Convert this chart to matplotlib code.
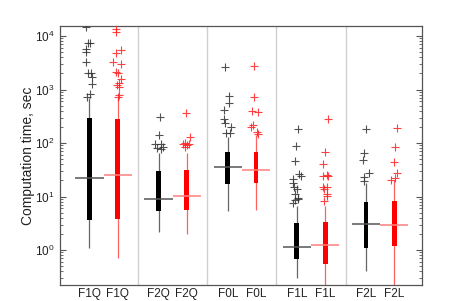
import matplotlib
matplotlib.use("Agg")
import matplotlib.pyplot as plt
import numpy as np

plt.rcParams['font.family'] = ['Liberation Sans', 'DejaVu Sans']

labels = ["F1Q", "F2Q", "F0L", "F1L", "F2L"]

# box statistics: whisker low, q1, median, q3, whisker high
black_stats = [
    [1.10, 3.64, 21.9, 290, 700],
    [2.14, 5.36, 8.98, 30.0, 65],
    [5.29, 17.1, 35.6, 68.8, 130],
    [0.30, 0.69, 1.14, 3.2, 6.6],
    [0.40, 1.10, 3.10, 7.8, 17.6],
]
red_stats = [
    [0.70, 3.80, 24.9, 277, 690],
    [1.96, 5.60, 10.1, 31.3, 66],
    [5.60, 17.6, 31.3, 67.9, 140],
    [0.20, 0.55, 1.24, 3.29, 6.6],
    [0.20, 1.19, 2.93, 8.24, 20],
]

black_out = [
    [14900, 7300, 7300, 5640, 5090, 3220, 2010, 2010, 1730, 1250, 733, 813],
    [310, 141, 96, 94, 86, 82, 79],
    [2650, 756, 567, 414, 277, 240, 202, 156, 152],
    [180, 88, 46, 26, 24, 21, 18, 15.3, 13.6, 11.1, 9.5, 8.9, 8.6, 7.7],
    [180, 66, 48, 27.9, 22.8, 19.7],
]
black_jit = [
    [-0.12, -0.04, 0.02, -0.12, -0.12, -0.12, -0.04, 0.04, 0.08, 0.08, -0.08, 0.02],
    [0.05, 0.01, -0.11, 0.07, 0.17, -0.04, 0.07],
    [-0.1, 0.04, 0.04, -0.13, -0.13, -0.08, 0.11, -0.05, 0.07],
    [0.03, -0.03, -0.06, 0.09, 0.15, -0.14, -0.12, -0.1, 0.0, -0.06, 0.03, 0.05, -0.05, -0.12],
    [0.01, -0.07, -0.11, 0.11, -0.07, -0.07],
]
red_out = [
    [13300, 11700, 5470, 4750, 3310, 3000, 2150, 2060, 1570, 1340, 1210, 1130, 789, 733],
    [365, 131, 100, 97, 94, 90, 86],
    [2750, 714, 396, 379, 217, 200, 163, 150],
    [280, 69, 41, 25, 24.5, 24, 15.3, 14.9, 13.6, 11.1, 10.2, 8.4],
    [188, 85, 44.7, 27.9, 21.9, 20.3],
]
red_jit = [
    [-0.05, -0.05, 0.11, -0.05, -0.15, 0.11, -0.05, 0.0, 0.11, 0.03, -0.03, 0.06, 0.06, 0.0],
    [-0.04, 0.11, -0.05, -0.14, 0.06, 0.0, -0.05],
    [-0.07, -0.07, -0.14, 0.07, -0.12, -0.16, 0.05, 0.07],
    [0.09, 0.0, -0.07, 0.05, -0.07, 0.11, 0.07, -0.09, -0.04, 0.05, 0.07, -0.03],
    [0.08, 0.02, 0.0, 0.08, 0.02, -0.1],
]

fig = plt.figure(figsize=(4.67, 3.01), dpi=100)
ax = fig.add_axes([60/467, 1-285/301, 362/467, 259/301])
ax.set_yscale('log')

step = 2.445
gpos = 1.04 + step*np.arange(len(labels))
series = [
    (black_stats, black_out, black_jit, 0.0, 'black', '#666666', '#555555', '#333333'),
    (red_stats, red_out, red_jit, 1.0, '#ff0000', '#ff6060', '#ff8080', '#ff2020'),
]
xt, xl = [], []
for g in range(len(labels)):
    for stats, outs, jits, off, bcol, wcol, mcol, ocol in series:
        x = gpos[g] + off
        lo, q1, med, q3, hi = stats[g]
        ax.vlines(x, lo, hi, color=wcol, lw=0.9, zorder=2)
        ax.bar(x, q3-q1, bottom=q1, width=0.17, color=bcol, edgecolor='none', zorder=3)
        ax.hlines(med, x-0.5, x+0.5, color=mcol, lw=1.1, zorder=4)
        ax.plot(x + np.array(jits[g]), outs[g], linestyle='none', marker='+',
                ms=6, mew=0.8, color=ocol, alpha=0.85, zorder=5)
        xt.append(x)
        xl.append(labels[g])

for g in range(len(labels)-1):
    ax.axvline((gpos[g]+1+gpos[g+1])/2, color='#d0d0d0', lw=1.0, zorder=1)

ax.set_xlim(0, 12.8)
ax.set_ylim(0.222, 15400)
ax.set_xticks(xt)
ax.set_xticklabels(xl, fontsize=8.5, color='#222222')
ax.tick_params(axis='x', length=0, pad=2.5)
ax.tick_params(axis='y', which='both', direction='in', left=True, right=True,
               labelsize=8.5, labelcolor='#222222', color='#555555', pad=4)
ax.tick_params(axis='y', which='major', length=4)
ax.tick_params(axis='y', which='minor', length=2)
ax.yaxis.set_major_locator(matplotlib.ticker.LogLocator(base=10, numticks=10))
ax.yaxis.set_minor_locator(matplotlib.ticker.LogLocator(base=10, subs=np.arange(2, 10), numticks=20))
for s in ax.spines.values():
    s.set_color('#555555')
    s.set_linewidth(0.9)
ax.set_ylabel("Computation time, sec", fontsize=10, color='#222222')
ax.yaxis.set_label_coords(-0.068, 0.5)

fig.savefig("out.png", dpi=100)
